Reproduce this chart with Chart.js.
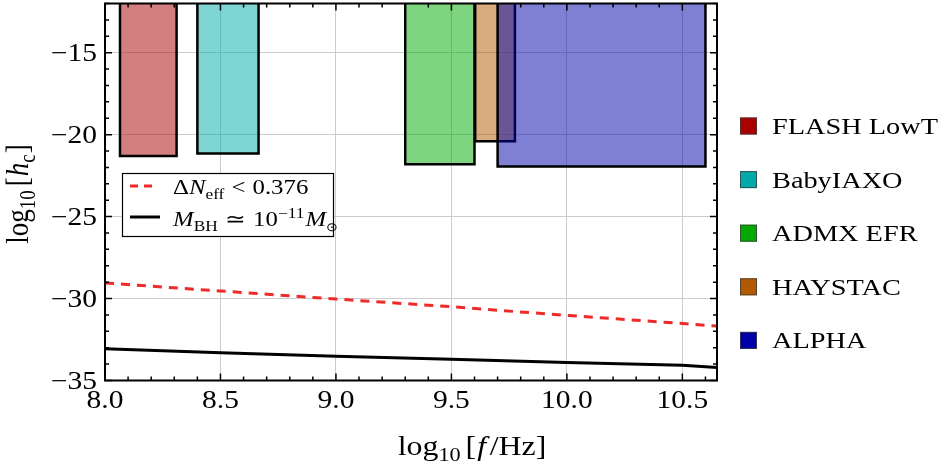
<!DOCTYPE html>
<html>
<head>
<meta charset="utf-8">
<script src="https://cdn.jsdelivr.net/npm/chart.js@4.4.0/dist/chart.umd.min.js"></script>
<style>
  html, body { margin: 0; padding: 0; background: #fff; }
  #wrap { width: 950px; height: 472px; }
</style>
</head>
<body>
<div id="wrap"><canvas id="hc-chart"></canvas></div>
<script>
// experiments (boxes reach past the top of the frame)
const experiments = ['FLASH LowT', 'BabyIAXO', 'ADMX EFR', 'HAYSTAC', 'ALPHA'];
const expColors = ['#aa0000', '#00aaaa', '#00aa00', '#b35a00', '#0000aa'];
const expFreqMin = [8.065, 8.40, 9.30, 9.603, 9.70];
const expFreqMax = [8.31, 8.665, 9.60, 9.775, 10.60];
const expHcMin = [-21.3, -21.15, -21.8, -20.4, -21.95];
const boxTop = -11;

// curves
const lineFreq = [8.0, 8.5, 9.0, 9.5, 10.0, 10.5, 10.65];
const nEffHc = [-29.05, -29.54, -30.03, -30.5, -31.03, -31.52, -31.68];
const pbhHc = [-33.07, -33.31, -33.52, -33.70, -33.90, -34.07, -34.2];

// axes
const xTicks = [8.0, 8.5, 9.0, 9.5, 10.0, 10.5];
const yTicks = [-35, -30, -25, -20, -15];
const xRange = [8.0, 10.65];
const yRange = [-35, -12];

const SX = 1.18;
const SERIF = '"Liberation Serif", "Times New Roman", serif';

function hexA(hex, a) {
  const n = parseInt(hex.slice(1), 16);
  return 'rgba(' + (n >> 16) + ',' + ((n >> 8) & 255) + ',' + (n & 255) + ',' + a + ')';
}

function fontFor(p, size) {
  const s = (p.sub || p.sup) ? size * (p.scale || 0.7) : size;
  return (p.it ? 'italic ' : '') + s + 'px ' + SERIF;
}

function richWidth(ctx, parts, size) {
  let w = 0;
  parts.forEach(p => { ctx.font = fontFor(p, size); w += ctx.measureText(p.t).width + (p.pad || 0); });
  return w;
}

// draws a run of text pieces (italic / sub / sup), slightly stretched like the original
function drawRich(ctx, parts, x, y, size, align, rotate) {
  ctx.save();
  ctx.translate(x, y);
  ctx.scale(SX, 1);
  if (rotate) ctx.rotate(-Math.PI / 2);
  const w = richWidth(ctx, parts, size);
  let cx = align === 'center' ? -w / 2 : align === 'right' ? -w : 0;
  ctx.textBaseline = 'alphabetic';
  ctx.textAlign = 'left';
  ctx.fillStyle = '#000';
  parts.forEach(p => {
    ctx.font = fontFor(p, size);
    const dy = p.sub ? size * 0.22 : p.sup ? -size * 0.4 : 0;
    ctx.fillText(p.t, cx, dy);
    cx += ctx.measureText(p.t).width + (p.pad || 0);
  });
  ctx.restore();
}

function fmtY(v) { return v < 0 ? '\u2212' + Math.abs(v) : String(v); }

const boxSets = experiments.map((name, i) => ({
  label: name,
  data: [
    {x: expFreqMin[i], y: boxTop},
    {x: expFreqMin[i], y: expHcMin[i]},
    {x: expFreqMax[i], y: expHcMin[i]},
    {x: expFreqMax[i], y: boxTop},
    {x: expFreqMin[i], y: boxTop}
  ],
  showLine: true,
  fill: 'shape',
  backgroundColor: hexA(expColors[i], 0.5),
  borderColor: '#000',
  borderWidth: 2.5,
  pointRadius: 0,
  tension: 0,
  order: experiments.length - i + 1
}));

const curveSets = [{
  label: 'dNeff',
  data: lineFreq.map((f, i) => ({x: f, y: nEffHc[i]})),
  showLine: true,
  borderColor: '#ee2a2a',
  borderWidth: 3,
  borderDash: [9, 7],
  pointRadius: 0,
  tension: 0,
  fill: false,
  order: 0
}, {
  label: 'pbh',
  data: lineFreq.map((f, i) => ({x: f, y: pbhHc[i]})),
  showLine: true,
  borderColor: '#000',
  borderWidth: 3,
  pointRadius: 0,
  tension: 0,
  fill: false,
  order: 0
}];

const decor = {
  id: 'frameDecor',
  afterDraw: (chart) => {
    const {ctx} = chart;
    const xs = chart.scales.x, ys = chart.scales.y;
    const {left, right, top, bottom} = chart.chartArea;
    ctx.save();

    // inward ticks on all four sides
    ctx.strokeStyle = '#000';
    ctx.lineWidth = 1.5;
    ctx.beginPath();
    for (let k = 80; k <= 106; k++) {
      const px = xs.getPixelForValue(k / 10);
      const len = k % 5 === 0 ? 7 : 4;
      ctx.moveTo(px, bottom); ctx.lineTo(px, bottom - len);
      ctx.moveTo(px, top); ctx.lineTo(px, top + len);
    }
    for (let v = yRange[0]; v <= yRange[1]; v++) {
      const py = ys.getPixelForValue(v);
      const len = v % 5 === 0 ? 7 : 4;
      ctx.moveTo(left, py); ctx.lineTo(left + len, py);
      ctx.moveTo(right, py); ctx.lineTo(right - len, py);
    }
    ctx.stroke();
    ctx.lineWidth = 2;
    ctx.strokeRect(left, top, right - left, bottom - top);

    // tick labels
    xTicks.forEach(v => drawRich(ctx, [{t: v.toFixed(1)}], xs.getPixelForValue(v), 407.5, 25, 'center'));
    yTicks.forEach(v => drawRich(ctx, [{t: fmtY(v)}], 97, ys.getPixelForValue(v) + 8.3, 25, 'right'));

    // axis titles
    drawRich(ctx, [{t: 'log'}, {t: '10', sub: true, pad: 4}, {t: '[', pad: 1}, {t: 'f', it: true, pad: 3}, {t: '/Hz]'}],
      472, 455, 27, 'center');
    drawRich(ctx, [{t: 'log'}, {t: '10', sub: true, pad: 4}, {t: '[', pad: 1}, {t: 'h', it: true}, {t: 'c', sub: true, pad: 1}, {t: ']'}],
      28, 194, 27, 'center', true);

    // inner legend
    ctx.fillStyle = '#fff';
    ctx.fillRect(122, 173, 211, 63);
    ctx.strokeStyle = '#000';
    ctx.lineWidth = 1.2;
    ctx.strokeRect(122.5, 173.5, 211, 63);
    ctx.lineWidth = 3;
    ctx.strokeStyle = '#ee2a2a';
    ctx.setLineDash([8, 6]);
    ctx.beginPath(); ctx.moveTo(130, 186); ctx.lineTo(158, 186); ctx.stroke();
    ctx.setLineDash([]);
    ctx.strokeStyle = '#000';
    ctx.beginPath(); ctx.moveTo(130, 217); ctx.lineTo(160, 217); ctx.stroke();
    drawRich(ctx, [{t: '\u0394'}, {t: 'N', it: true}, {t: 'eff', sub: true, pad: 6}, {t: '<', pad: 6}, {t: '0.376'}],
      173, 194, 21, 'left');
    drawRich(ctx, [{t: 'M', it: true}, {t: 'BH', sub: true, pad: 6}, {t: '\u2243', pad: 6}, {t: '10'}, {t: '\u221211', sup: true, pad: 1},
      {t: 'M', it: true}, {t: '\u2299', sub: true, scale: 0.55}], 173, 226, 21, 'left');

    // side legend
    experiments.forEach((name, i) => {
      const cy = 126 + i * 53.6;
      ctx.fillStyle = expColors[i];
      ctx.fillRect(740, cy - 8.5, 17, 17);
      ctx.strokeStyle = 'rgba(60,60,60,0.8)';
      ctx.lineWidth = 1;
      ctx.strokeRect(740.5, cy - 8, 16, 16);
      drawRich(ctx, [{t: name}], 772, cy + 8, 24, 'left');
    });
    ctx.restore();
  }
};

const config = {
  type: 'scatter',
  data: {datasets: boxSets.concat(curveSets)},
  options: {
    responsive: true,
    maintainAspectRatio: false,
    animation: false,
    layout: {padding: {left: 0, right: 233, top: 3.5, bottom: 0}},
    plugins: {legend: {display: false}, tooltip: {enabled: false}},
    scales: {
      x: {
        type: 'linear', min: xRange[0], max: xRange[1],
        afterBuildTicks: (s) => { s.ticks = xTicks.map(v => ({value: v})); },
        afterFit: (s) => { s.height = 91.5; },
        ticks: {display: false},
        grid: {color: '#cccccc', lineWidth: 1, drawTicks: false},
        border: {display: false}
      },
      y: {
        type: 'linear', min: yRange[0], max: yRange[1],
        afterBuildTicks: (s) => { s.ticks = yTicks.map(v => ({value: v})); },
        afterFit: (s) => { s.width = 105; },
        ticks: {display: false},
        grid: {color: '#cccccc', lineWidth: 1, drawTicks: false},
        border: {display: false}
      }
    }
  },
  plugins: [decor]
};

window.onload = function() {
  const ctx = document.getElementById('hc-chart').getContext('2d');
  window.hcChart = new Chart(ctx, config);
};
</script>
</body>
</html>
